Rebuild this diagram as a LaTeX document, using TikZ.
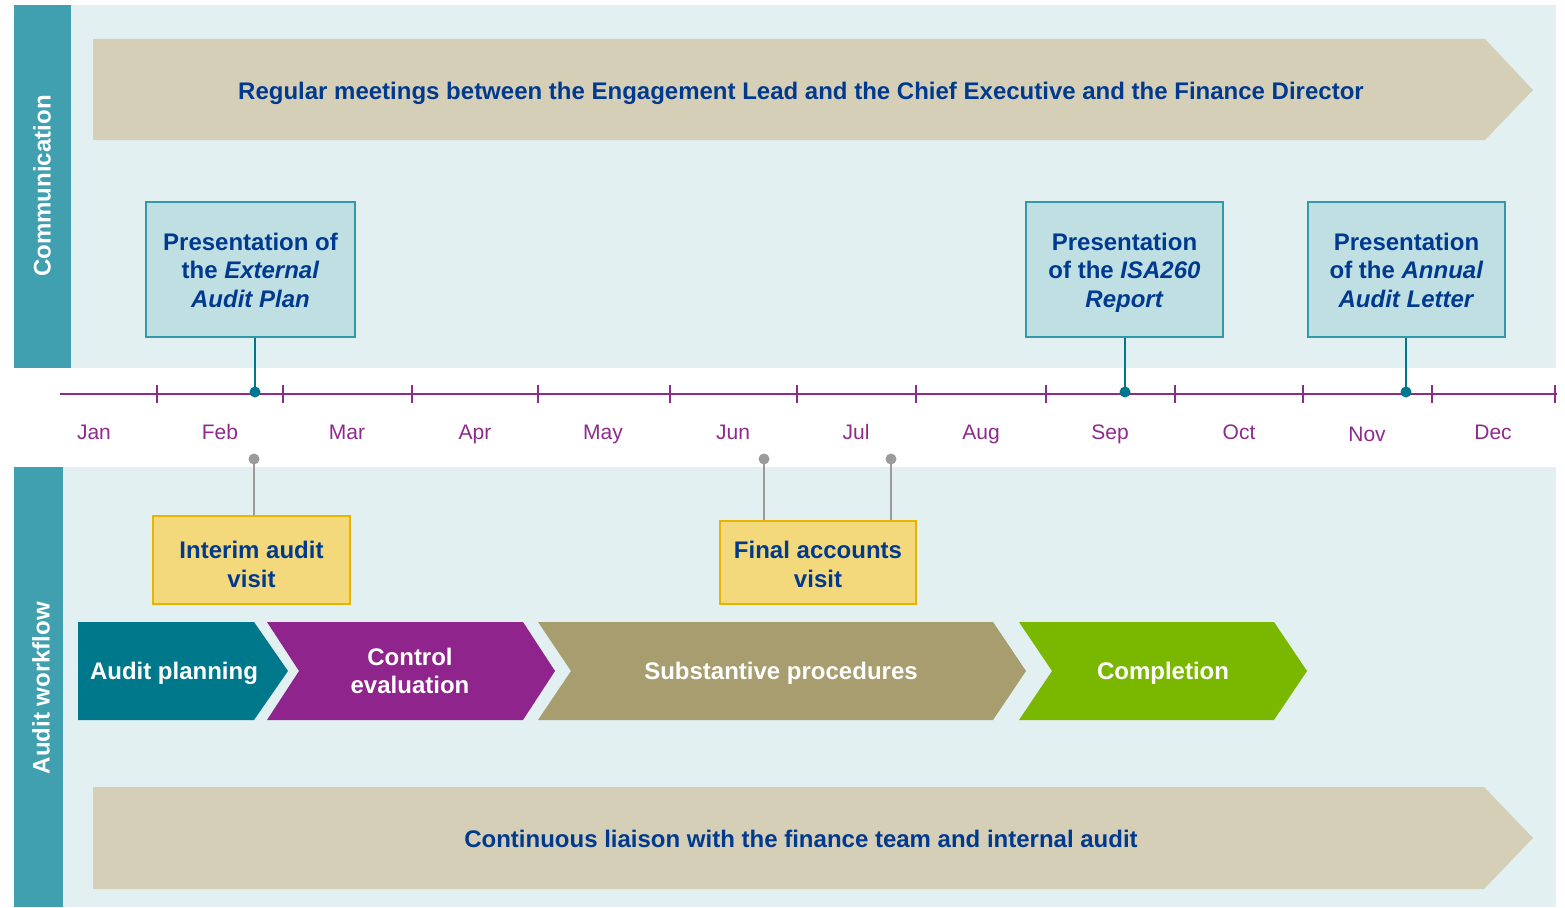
\documentclass[tikz,border=0pt]{standalone}
\usepackage{fontspec}
\setmainfont{Liberation Sans}
\usetikzlibrary{calc}
\definecolor{sidebar}{HTML}{41A0B0}
\definecolor{panelbg}{HTML}{E2F0F2}
\definecolor{banner}{HTML}{D5CFB8}
\definecolor{navy}{HTML}{003A8F}
\definecolor{tlpurple}{HTML}{8E2A8E}
\definecolor{boxfill}{HTML}{C0DFE3}
\definecolor{boxline}{HTML}{3399A8}
\definecolor{tealdot}{HTML}{00788C}
\definecolor{yelfill}{HTML}{F4D97C}
\definecolor{yelline}{HTML}{E8B400}
\definecolor{greyline}{HTML}{9B9B9B}
\definecolor{cteal}{HTML}{00788C}
\definecolor{cpurple}{HTML}{8E248C}
\definecolor{ctan}{HTML}{A79D6F}
\definecolor{cgreen}{HTML}{7AB800}
\tikzset{
  x=1pt, y=-1pt,
  bigfont/.style={font=\fontsize{24}{28.5}\selectfont\bfseries},
  sidetext/.style={rotate=90, text=white, bigfont},
  bannertext/.style={text=navy, anchor=base, bigfont},
  presbox/.style={draw=boxline, line width=1.2pt, fill=boxfill, inner sep=0pt},
  yelbox/.style={draw=yelline, line width=1.2pt, fill=yelfill, inner sep=0pt},
  boxtext/.style={text=navy, align=center, inner sep=0pt, bigfont},
  month/.style={text=tlpurple, anchor=base, font=\fontsize{21}{25}\selectfont},
  chevtext/.style={text=white, align=center, inner sep=0pt, bigfont},
  tick/.style={draw=tlpurple, line width=2.2pt},
  tealconn/.style={draw=tealdot, line width=2.4pt},
  greyconn/.style={draw=greyline, line width=2.6pt},
}
\begin{document}
\begin{tikzpicture}
\useasboundingbox (0,0) rectangle (1565,907);
% panels
\fill[white] (0,0) rectangle (1565,907);
\fill[panelbg] (71,5) rectangle (1556,368);
\fill[sidebar] (14,5) rectangle (71,368);
\fill[panelbg] (63,467) rectangle (1556,907);
\fill[sidebar] (14,467) rectangle (63,907);
\node[sidetext] (comm) at (42,186) {Communication};
\node[sidetext] (wf) at (41,688) {Audit workflow};
% banners
\fill[banner] (93,39) -- (1485,39) -- (1533,90) -- (1485,140) -- (93,140) -- cycle;
\node[bannertext] (meet) at (801,99) {Regular meetings between the Engagement Lead and the Chief Executive and the Finance Director};
\fill[banner] (93,787) -- (1484,787) -- (1533,838) -- (1484,889) -- (93,889) -- cycle;
\node[bannertext] (liaison) at (801,847) {Continuous liaison with the finance team and internal audit};
% timeline
\coordinate (tlstart) at (60,394);
\coordinate (tlend) at (1557,394);
\draw[tlpurple, line width=2.6pt] (tlstart) -- (tlend);
\foreach \t in {157,283,412,538,670,797,916,1046,1175,1303,1432,1555}{
  \draw[tick] (\t,385) -- (\t,403);
}
\foreach \m/\xx/\yy in {Jan/94/439,Feb/220/439,Mar/347/439,Apr/475/439,May/603/439,Jun/733/439,Jul/856/439,Aug/981/439,Sep/1110/439,Oct/1239/439,Nov/1367/441,Dec/1493/439}{
  \node[month] (m\m) at (\xx,\yy) {\m};
}
% presentation boxes
\node[presbox, minimum width=209pt, minimum height=135pt] (p1) at (250.5,269.5) {};
\node[boxtext] (p1text) at (250.5,273) {\strut Presentation of\\\strut the \textit{External}\\\strut\textit{Audit Plan}};
\node[presbox, minimum width=197pt, minimum height=135pt] (p2) at (1124.5,269.5) {};
\node[boxtext] (p2text) at (1124.5,273) {\strut Presentation\\\strut of the \textit{ISA260}\\\strut\textit{Report}};
\node[presbox, minimum width=197pt, minimum height=135pt] (p3) at (1406.5,269.5) {};
\node[boxtext] (p3text) at (1406.5,273) {\strut Presentation\\\strut of the \textit{Annual}\\\strut\textit{Audit Letter}};
\coordinate (d1) at (255,392);
\coordinate (d2) at (1125,392);
\coordinate (d3) at (1406,392);
\draw[tealconn] (p1.south -| d1) -- (d1);
\draw[tealconn] (p2.south -| d2) -- (d2);
\draw[tealconn] (p3.south -| d3) -- (d3);
\foreach \d in {d1,d2,d3}{ \fill[tealdot] (\d) circle (5.5pt); }
% yellow boxes
\node[yelbox, minimum width=197pt, minimum height=88pt] (iv) at (251.5,560) {};
\node[boxtext] (ivtext) at (251.5,567.5) {\strut Interim audit\\\strut visit};
\node[yelbox, minimum width=196pt, minimum height=83pt] (fv) at (818,562.5) {};
\node[boxtext] (fvtext) at (818,567.5) {\strut Final accounts\\\strut visit};
\coordinate (g1) at (254,459);
\coordinate (g2) at (764,459);
\coordinate (g3) at (891,459);
\draw[greyconn] (g1) -- (iv.north -| g1);
\draw[greyconn] (g2) -- (fv.north -| g2);
\draw[greyconn] (g3) -- (fv.north -| g3);
\foreach \g in {g1,g2,g3}{ \fill[greyline] (\g) circle (5.5pt); }
% chevrons
\fill[cteal] (78,622) -- (254,622) -- (288,671) -- (254,720) -- (78,720) -- cycle;
\fill[cpurple] (267,622) -- (523,622) -- (555,671) -- (523,720) -- (267,720) -- (299,671) -- cycle;
\fill[ctan] (538,622) -- (993,622) -- (1026,671) -- (993,720) -- (538,720) -- (571,671) -- cycle;
\fill[cgreen] (1019,622) -- (1274,622) -- (1307,671) -- (1274,720) -- (1019,720) -- (1052,671) -- cycle;
\node[chevtext] (c1) at (174,674) {\strut Audit planning};
\node[chevtext] (c2) at (410,674) {\strut Control\\\strut evaluation};
\node[chevtext] (c3) at (781,674) {\strut Substantive procedures};
\node[chevtext] (c4) at (1163,674) {\strut Completion};
\end{tikzpicture}
\end{document}
